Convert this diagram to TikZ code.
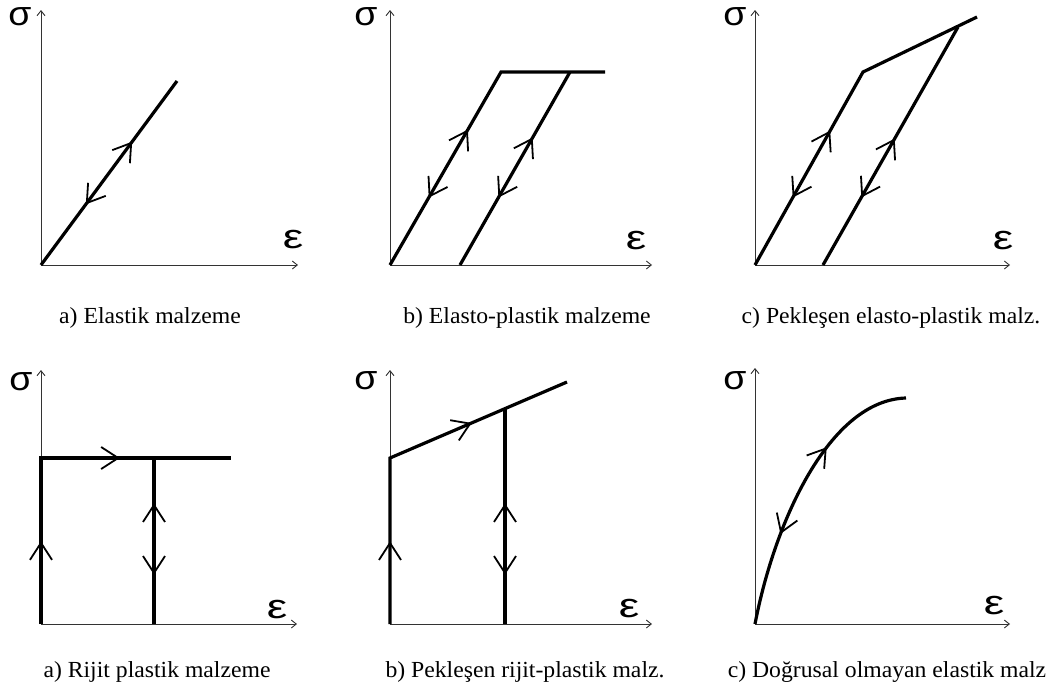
\documentclass[tikz,border=0pt]{standalone}
\usepackage{fontspec}
\setmainfont{Liberation Serif}
\newfontfamily\grk{Liberation Sans}
\usetikzlibrary{arrows.meta,decorations.markings}
\begin{document}
\begin{tikzpicture}[x=1pt,y=1pt,
  axis/.style={line width=0.9pt, draw=black!80, -{Straight Barb[length=5pt,width=8pt]}},
  curve/.style={line width=3.2pt, line join=miter},
  chevron/.style={line width=1.8pt, line join=miter, line cap=butt},
  fw/.style={postaction={decorate,decoration={markings,mark=at position #1 with {\draw[chevron] (-17pt,11pt) -- (0pt,0pt) -- (-17pt,-11pt);}}}},
  bw/.style={postaction={decorate,decoration={markings,mark=at position #1 with {\draw[chevron] (17pt,11pt) -- (0pt,0pt) -- (17pt,-11pt);}}}},
  lbl/.style={font=\grk\fontsize{34}{34}\selectfont, inner sep=0pt, xscale=1.1},
  elbl/.style={font=\grk\fontsize{34}{34}\selectfont, inner sep=0pt, xscale=1.35},
  captxt/.style={font=\fontsize{23}{25}\selectfont, inner sep=0pt, anchor=base, xscale=1.03}
]
\useasboundingbox (0,0) rectangle (1057,-688);

% ---------- panel a (top)
\coordinate (o1) at (41,-265);
\coordinate (y1) at (41,-10);
\coordinate (x1) at (298,-265);
\draw[axis] (o1) -- (y1);
\draw[axis] (o1) -- (x1);
\coordinate (p1) at (177,-81);
\draw[curve, fw=0.663, bw=0.337] (o1) -- (p1);
\node[lbl] (s1) at (20,-17) {σ};
\node[elbl] (e1) at (293,-240) {ε};
\node[captxt] (c1) at (150,-323) {a) Elastik malzeme};

% ---------- panel b (top)
\coordinate (o2) at (390,-265);
\coordinate (y2) at (390,-10);
\coordinate (x2) at (652,-265);
\draw[axis] (o2) -- (y2);
\draw[axis] (o2) -- (x2);
\coordinate (b2a) at (501,-72);
\coordinate (b2b) at (605,-72);
\coordinate (b2c) at (460,-265);
\coordinate (b2d) at (570,-72);
\draw[curve, fw=0.473, bw=0.243] (o2) -- (b2a) -- (b2b);
\draw[curve, fw=0.653, bw=0.357] (b2c) -- (b2d);
\node[lbl] (s2) at (366,-17) {σ};
\node[elbl] (e2) at (636,-241) {ε};
\node[captxt] (c2) at (527,-323) {b) Elasto-plastik malzeme};

% ---------- panel c (top)
\coordinate (o3) at (755,-265);
\coordinate (y3) at (755,-10);
\coordinate (x3) at (1010,-265);
\draw[axis] (o3) -- (y3);
\draw[axis] (o3) -- (x3);
\coordinate (b3a) at (863,-72);
\coordinate (b3b) at (977,-17);
\coordinate (b3c) at (823,-265);
\coordinate (b3d) at (958,-27);
\draw[curve, fw=0.438, bw=0.227] (o3) -- (b3a) -- (b3b);
\draw[curve, fw=0.525, bw=0.29] (b3c) -- (b3d);
\node[lbl] (s3) at (735,-17) {σ};
\node[elbl] (e3) at (1003,-241) {ε};
\node[captxt] (c3) at (891,-323) {c) Pekleşen elasto-plastik malz.};

% ---------- panel a (bottom)
\coordinate (o4) at (41,-624);
\coordinate (y4) at (41,-370);
\coordinate (x4) at (297,-624);
\draw[axis] (o4) -- (y4);
\draw[axis] (o4) -- (x4);
\coordinate (b4a) at (41,-458);
\coordinate (b4b) at (231,-458);
\coordinate (b4c) at (154,-458);
\coordinate (b4d) at (154,-624);
\draw[curve, fw=0.228, fw=0.683] (o4) -- (b4a) -- (b4b);
\draw[curve, bw=0.283, fw=0.693] (b4c) -- (b4d);
\node[lbl] (s4) at (21,-382) {σ};
\node[elbl] (e4) at (277,-610) {ε};
\node[captxt] (c4) at (157,-677) {a) Rijit plastik malzeme};

% ---------- panel b (bottom)
\coordinate (o5) at (390,-624);
\coordinate (y5) at (390,-370);
\coordinate (x5) at (652,-624);
\draw[axis] (o5) -- (y5);
\draw[axis] (o5) -- (x5);
\coordinate (b5a) at (390,-458);
\coordinate (b5b) at (567,-382);
\coordinate (b5c) at (505,-408);
\coordinate (b5d) at (505,-624);
\draw[curve, fw=0.226, fw=0.706] (o5) -- (b5a) -- (b5b);
\draw[curve, bw=0.449, fw=0.764] (b5c) -- (b5d);
\node[lbl] (s5) at (366,-381) {σ};
\node[elbl] (e5) at (629,-609) {ε};
\node[captxt] (c5) at (525,-677) {b) Pekleşen rijit-plastik malz.};

% ---------- panel c (bottom)
\coordinate (o6) at (755,-624);
\coordinate (y6) at (755,-368);
\coordinate (x6) at (1010,-624);
\draw[axis] (o6) -- (y6);
\draw[axis] (o6) -- (x6);
\coordinate (b6a) at (906,-398);
\draw[curve, fw=0.66, bw=0.33] (o6) .. controls (775,-520) and (830,-400) .. (b6a);
\node[lbl] (s6) at (735,-381) {σ};
\node[elbl] (e6) at (994,-606) {ε};
\node[captxt] (c6) at (887,-677) {c) Doğrusal olmayan elastik malz};
\end{tikzpicture}
\end{document}
